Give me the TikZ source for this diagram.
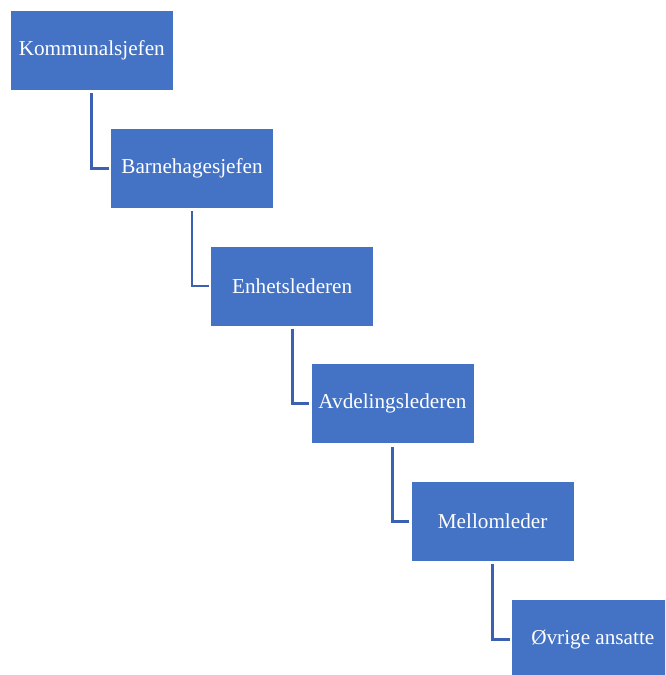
\documentclass[tikz,border=0pt]{standalone}
\usepackage{fontspec}
\setmainfont{Liberation Serif}
\begin{document}
\begin{tikzpicture}[x=1pt,y=1pt,
  orgbox/.style={draw=white, line width=0.6pt, fill=boxblue, text=white,
    minimum width=163pt, minimum height=80pt, inner sep=0pt, anchor=north west,
    font=\fontsize{21.2}{25}\selectfont},
  conn/.style={draw=lineblue, line width=2.8pt}]
\definecolor{boxblue}{HTML}{4472C4}
\definecolor{lineblue}{HTML}{3B62B2}
\useasboundingbox (0,0) rectangle (665,-675);
\begin{scope}
\clip (0,0) rectangle (665,-675);
\node[orgbox] (k) at (10,-10) {Kommunalsjefen};
\node[orgbox] (b) at (110.2,-127.8) {Barnehagesjefen};
\node[orgbox] (e) at (210.4,-245.6) {Enhetslederen};
\node[orgbox] (a) at (310.6,-363.4) {Avdelingslederen};
\node[orgbox] (m) at (410.8,-481.2) {Mellomleder};
\node[orgbox] (o) at (511,-599) {Øvrige ansatte};
\draw[conn] ([yshift=-2.5pt]k.south) |- ([xshift=-1.5pt]b.west);
\draw[conn] ([yshift=-2.5pt]b.south) |- ([xshift=-1.5pt]e.west);
\draw[conn] ([yshift=-2.5pt]e.south) |- ([xshift=-1.5pt]a.west);
\draw[conn] ([yshift=-2.5pt]a.south) |- ([xshift=-1.5pt]m.west);
\draw[conn] ([yshift=-2.5pt]m.south) |- ([xshift=-1.5pt]o.west);
\end{scope}
\end{tikzpicture}
\end{document}
